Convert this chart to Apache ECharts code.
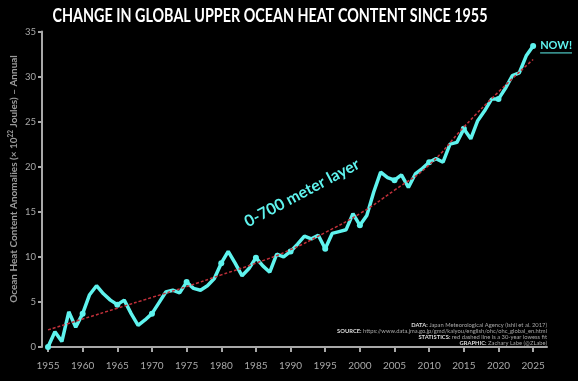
<!DOCTYPE html>
<html><head><meta charset="utf-8">
<script src="https://cdn.jsdelivr.net/npm/echarts@6/dist/echarts.min.js"></script>
<style>html,body{margin:0;padding:0;background:#000}#c{width:578px;height:381px}</style>
</head><body><div id="c"></div>
<script>
// ---- data ----
const years = [1955,1956,1957,1958,1959,1960,1961,1962,1963,1964,1965,1966,1967,1968,1969,1970,1971,1972,1973,1974,1975,1976,1977,1978,1979,1980,1981,1982,1983,1984,1985,1986,1987,1988,1989,1990,1991,1992,1993,1994,1995,1996,1997,1998,1999,2000,2001,2002,2003,2004,2005,2006,2007,2008,2009,2010,2011,2012,2013,2014,2015,2016,2017,2018,2019,2020,2021,2022,2023,2024,2025];
const ohc = [0.0,1.7,0.6,3.9,2.2,3.7,5.8,6.8,5.9,5.2,4.7,5.2,3.7,2.4,3.0,3.7,4.9,6.1,6.3,6.0,7.2,6.5,6.3,6.8,7.6,9.3,10.6,9.3,7.9,8.7,9.9,9.0,8.3,10.3,10.0,10.6,11.4,12.3,12.0,12.4,10.9,12.6,12.8,13.0,14.8,13.5,14.6,17.2,19.4,18.8,18.5,19.1,17.7,19.2,19.8,20.5,20.9,20.5,22.5,22.7,24.2,23.1,25.1,26.2,27.5,27.5,28.7,30.1,30.4,32.3,33.4];
const trendYears = [1955,1960,1965,1970,1975,1980,1985,1990,1995,2000,2005,2010,2015,2020,2025];
const trendValues = [1.9,3.1,4.3,5.5,6.7,8.0,9.3,10.8,12.7,14.8,17.4,20.2,24.4,28.3,31.9];
const axisExtraYears = [2026,2027];
const xTickLabels = ['1955','1960','1965','1970','1975','1980','1985','1990','1995','2000','2005','2010','2015','2020','2025'];
const yMin = 0, yMax = 35, yStep = 5;

const titleText = 'CHANGE IN GLOBAL UPPER OCEAN HEAT CONTENT SINCE 1955';
const creditLines = [
  ['DATA:', ' Japan Meteorological Agency (Ishii et al. 2017)'],
  ['SOURCE:', ' https://www.data.jma.go.jp/gmd/kaiyou/english/ohc/ohc_global_en.html'],
  ['STATISTICS:', ' red dashed line is a 30-year lowess fit'],
  ['GRAPHIC:', ' Zachary Labe (@ZLabe)']
];

// ---- chart ----
const cats = years.concat(axisExtraYears).map(String);
const trendData = trendYears.map((y,i)=>[String(y), trendValues[i]]);
const CYAN = '#5ff3ee';
const GRAY = '#a8a8a8';
const FONT = 'Lato';

function measure(text, font){
  const c = document.createElement('canvas').getContext('2d');
  c.font = font; return c.measureText(text).width;
}
const titleFont = 'bold 18px Lato';
const titleScale = 435 / measure(titleText, titleFont);

const chart = echarts.init(document.getElementById('c'), null, {renderer:'canvas'});
const showTick = (idx, val) => xTickLabels.indexOf(String(val)) >= 0;

const lastIdx = ohc.length - 1;
const ohcData = ohc.map((v,i)=> i===lastIdx ? {value:v, label:{show:true, position:'right', distance:4, formatter:'NOW!', color:CYAN, fontFamily:FONT, fontWeight:'bold', fontSize:11}} : v);

chart.setOption({
  backgroundColor:'#000',
  animation:false,
  grid:{left:48, right:31, top:31.5, bottom:34, containLabel:false},
  xAxis:{
    type:'category', data:cats, boundaryGap:false, offset:6,
    axisLine:{lineStyle:{color:GRAY, width:2}},
    axisTick:{show:true, interval:showTick, length:5, lineStyle:{color:GRAY, width:2}},
    axisLabel:{interval:showTick, color:GRAY, fontFamily:FONT, fontSize:10, margin:8},
    splitLine:{show:false}
  },
  yAxis:{
    type:'value', min:yMin, max:yMax, interval:yStep, offset:6,
    axisLine:{show:true, lineStyle:{color:GRAY, width:2}},
    axisTick:{show:true, length:4, lineStyle:{color:GRAY, width:2}},
    axisLabel:{color:GRAY, fontFamily:FONT, fontSize:9.5, margin:6},
    splitLine:{show:false}
  },
  series:[
    {type:'line', data:ohcData, z:2, symbol:'circle', symbolSize:6, showSymbol:true,
     itemStyle:{color:CYAN}, lineStyle:{color:CYAN, width:3.5}},
    {type:'line', data:trendData, z:3, smooth:true, symbol:'none', connectNulls:true,
     lineStyle:{color:'#c0303a', width:1.5, type:[3,2]}}
  ],
  graphic:[
    {type:'text', x:270, y:16, scaleX:titleScale, style:{text:titleText, font:titleFont, fill:'#fff', align:'center', verticalAlign:'middle'}},
    {type:'text', x:14, y:179, rotation:Math.PI/2, style:{
      text:'{a|Ocean Heat Content Anomalies (× 10}{s|22}{a| Joules) – Annual}',
      align:'center', verticalAlign:'middle',
      rich:{a:{fontFamily:FONT, fontSize:10, fontWeight:'bold', fill:'#9a9a9a'}, s:{fontFamily:FONT, fontSize:6.5, fontWeight:'bold', fill:'#9a9a9a', padding:[0,0,6,0]}}
    }},
    {type:'text', x:302, y:193, rotation:28*Math.PI/180, style:{text:'0-700 meter layer', font:'bold 16px Lato', fill:CYAN, align:'center', verticalAlign:'middle'}}
  ].concat(creditLines.map((l,i)=>({
    type:'text', x:547, y:[325,331,337,343.5][i], style:{
      text:'{b|'+l[0]+'}{r|'+l[1]+'}', align:'right', verticalAlign:'middle',
      rich:{b:{fontFamily:FONT, fontSize:5.8, fontWeight:'bold', fill:'#dddddd'}, r:{fontFamily:FONT, fontSize:5.8, fill:'#a6a6a6'}}
    }
  })))
});

// underline for NOW! label
const p = chart.convertToPixel({seriesIndex:0}, [lastIdx, ohc[lastIdx]]);
const w = measure('NOW!', 'bold 11px Lato');
chart.setOption({graphic:chart.getOption().graphic[0].elements.concat([
  {type:'line', shape:{x1:p[0]+7, y1:p[1]+7, x2:p[0]+7+w, y2:p[1]+7}, style:{stroke:CYAN, lineWidth:1}}
])});
</script></body></html>
